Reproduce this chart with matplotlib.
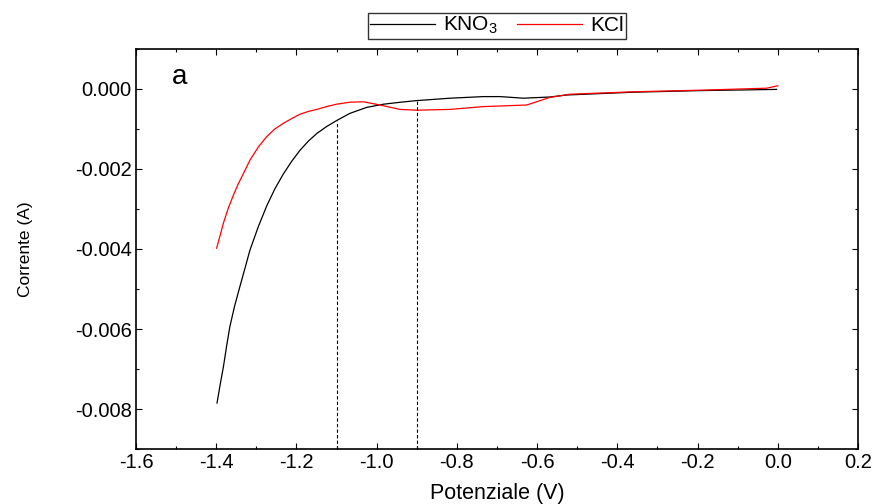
import numpy as np
import matplotlib.pyplot as plt
from matplotlib.ticker import MultipleLocator, FormatStrFormatter

plt.rcParams['font.family'] = ['Liberation Sans', 'DejaVu Sans']
plt.rcParams['mathtext.default'] = 'regular'

# KNO3 curve (potential V, current A)
kno3_v = [-1.398, -1.390, -1.382, -1.374, -1.366, -1.354, -1.341, -1.328, -1.316,
          -1.295, -1.274, -1.254, -1.233, -1.212, -1.191, -1.170, -1.149, -1.125,
          -1.100, -1.067, -1.025, -0.983, -0.940, -0.900, -0.817, -0.734, -0.692,
          -0.634, -0.568, -0.526, -0.360, -0.193, -0.003]
kno3_i = [-0.00785, -0.00738, -0.00694, -0.00642, -0.00594, -0.00542, -0.00494,
          -0.00447, -0.00403, -0.00344, -0.00292, -0.00250, -0.00213, -0.00181,
          -0.00153, -0.00130, -0.00111, -0.00094, -0.00079, -0.00061, -0.00046,
          -0.00038, -0.00033, -0.00029, -0.00023, -0.00019, -0.00019, -0.00023,
          -0.00020, -0.00015, -0.00008, -0.00004, -0.00001]

# KCl curve
kcl_v = [-1.399, -1.390, -1.382, -1.370, -1.357, -1.345, -1.332, -1.316, -1.295,
         -1.274, -1.254, -1.233, -1.212, -1.191, -1.170, -1.149, -1.125, -1.100,
         -1.067, -1.033, -0.992, -0.942, -0.900, -0.817, -0.734, -0.626, -0.568,
         -0.518, -0.360, -0.193, -0.028, 0.000]
kcl_i = [-0.00398, -0.00365, -0.00335, -0.00298, -0.00265, -0.00237, -0.00211,
         -0.00178, -0.00145, -0.00119, -0.00100, -0.00086, -0.00074, -0.00063,
         -0.00056, -0.00051, -0.00044, -0.00038, -0.00033, -0.00032, -0.00040,
         -0.00051, -0.00053, -0.00051, -0.00044, -0.00040, -0.00021, -0.00013,
         -0.00007, -0.00003, 0.00002, 0.00008]

# vertical markers (potential)
marker_v = [-1.1, -0.9]

fig = plt.figure(figsize=(8.79, 5.04), dpi=100)
ax = fig.add_axes([136/879, 1 - 449/504, (858 - 136)/879, 400/504])

ax.plot(kno3_v, kno3_i, color='black', lw=0.9, label='KNO$_3$')
ax.plot(kcl_v, kcl_i, color='red', lw=0.9, label='KCl')

ylo, yhi = -0.009, 0.001
for v in marker_v:
    top = np.interp(v, kno3_v, kno3_i)
    ax.plot([v, v], [ylo, top], color='black', lw=0.8, ls=(0, (3, 2)))

ax.set_xlim(-1.6, 0.2)
ax.set_ylim(ylo, yhi)
ax.xaxis.set_major_locator(MultipleLocator(0.2))
ax.xaxis.set_minor_locator(MultipleLocator(0.1))
ax.yaxis.set_major_locator(MultipleLocator(0.002))
ax.yaxis.set_minor_locator(MultipleLocator(0.001))
ax.xaxis.set_major_formatter(FormatStrFormatter('%.1f'))
ax.yaxis.set_major_formatter(FormatStrFormatter('%.3f'))
ax.tick_params(which='both', direction='in', top=True, right=True, labelsize=14.5, width=0.8)
ax.tick_params(which='major', length=4, pad=3)
ax.tick_params(which='minor', length=2.5)
for s in ax.spines.values():
    s.set_linewidth(1.2)

ax.set_xlabel('Potenziale (V)', fontsize=15.5, labelpad=8)
ax.set_ylabel('Corrente (A)', fontsize=12.5, labelpad=30)
ax.text(0.05, 0.93, 'a', transform=ax.transAxes, fontsize=20, va='center')

ax.legend(loc='lower center', bbox_to_anchor=(0.5, 1.0), ncol=2, frameon=True,
          fancybox=False, edgecolor='black', fontsize=15, handlelength=3.1,
          borderpad=0.1, columnspacing=0.9, handletextpad=0.4, borderaxespad=0.5)

fig.savefig('out.png', dpi=100)
